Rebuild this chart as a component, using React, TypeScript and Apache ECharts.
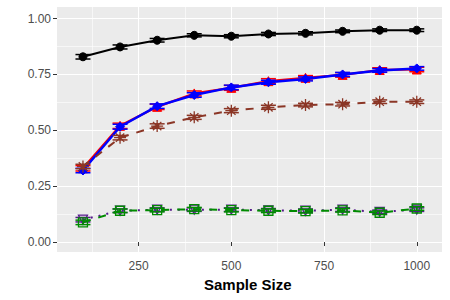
import React, { useEffect, useRef } from "react";
import * as echarts from "echarts";

const sampleSizes = [100, 200, 300, 400, 500, 600, 700, 800, 900, 1000];
const blackVals = [0.829, 0.873, 0.903, 0.925, 0.921, 0.931, 0.934, 0.943, 0.948, 0.948];
const blackErr = [0.01, 0.009, 0.008, 0.007, 0.007, 0.007, 0.007, 0.006, 0.006, 0.006];
const redVals = [0.33, 0.52, 0.605, 0.665, 0.69, 0.72, 0.735, 0.748, 0.77, 0.772];
const redErr = [0.012, 0.012, 0.012, 0.011, 0.011, 0.011, 0.01, 0.01, 0.01, 0.01];
const blueVals = [0.32, 0.516, 0.608, 0.658, 0.692, 0.715, 0.73, 0.75, 0.768, 0.777];
const blueErr = [0.01, 0.011, 0.01, 0.01, 0.01, 0.009, 0.009, 0.009, 0.008, 0.008];
const brownVals = [0.338, 0.467, 0.519, 0.558, 0.588, 0.603, 0.613, 0.617, 0.628, 0.628];
const brownErr = [0.01, 0.01, 0.01, 0.009, 0.009, 0.009, 0.008, 0.008, 0.008, 0.008];
const greenVals = [0.088, 0.14, 0.143, 0.147, 0.143, 0.14, 0.138, 0.142, 0.131, 0.15];
const greenErr = [0.01, 0.008, 0.008, 0.008, 0.008, 0.008, 0.008, 0.008, 0.008, 0.008];
const purpleVals = [0.1, 0.14, 0.145, 0.145, 0.145, 0.142, 0.14, 0.145, 0.135, 0.145];
const purpleErr = [0.01, 0.008, 0.008, 0.008, 0.008, 0.008, 0.008, 0.008, 0.008, 0.008];

const xTicks = [250, 500, 750, 1000];
const xMinor = [125, 375, 625, 875];
const yTicks = [0, 0.25, 0.5, 0.75, 1.0];
const yMinor = [0.125, 0.375, 0.625, 0.875];
const xTitle = "Sample Size";

const ASTERISK = "path://M0,-10L0,10M-10,0L10,0M-7,-7L7,7M-7,7L7,-7";

type Spec = {
  name: string;
  vals: number[];
  err: number[];
  color: string;
  dash: number[] | "solid";
  width: number;
  symbol: string;
  size: number;
  filled: boolean;
};

const specs: Spec[] = [
  { name: "black", vals: blackVals, err: blackErr, color: "#000000", dash: "solid", width: 2, symbol: "circle", size: 8, filled: true },
  { name: "red", vals: redVals, err: redErr, color: "#FF0000", dash: "solid", width: 2.2, symbol: "triangle", size: 9, filled: true },
  { name: "blue", vals: blueVals, err: blueErr, color: "#0000FF", dash: "solid", width: 2.5, symbol: "diamond", size: 9, filled: true },
  { name: "brown", vals: brownVals, err: brownErr, color: "#8B3626", dash: [8, 8], width: 2, symbol: ASTERISK, size: 12, filled: false },
  { name: "purple", vals: purpleVals, err: purpleErr, color: "#551A8B", dash: [2, 6], width: 2, symbol: "path://M-10,-8L10,-8L0,10Z", size: 9, filled: false },
  { name: "green", vals: greenVals, err: greenErr, color: "#008B00", dash: [8, 8], width: 2, symbol: "rect", size: 9, filled: false },
];

export default function App() {
  const ref = useRef<HTMLDivElement>(null);
  useEffect(() => {
    if (!ref.current) return;
    const chart = echarts.init(ref.current, undefined, { renderer: "svg" });
    const series: any[] = [];
    specs.forEach((s, i) => {
      series.push({
        type: "line",
        name: s.name,
        data: sampleSizes.map((x, k) => [x, s.vals[k]]),
        symbol: s.symbol,
        symbolSize: s.size,
        showSymbol: true,
        lineStyle: { color: s.color, width: s.width, type: s.dash },
        itemStyle: s.filled
          ? { color: s.color, borderColor: s.color, borderWidth: 1 }
          : { color: "none", borderColor: s.color, borderWidth: 1.3 },
        z: 2 + i,
        silent: true,
      });
      series.push({
        type: "custom",
        name: s.name + "-err",
        data: sampleSizes.map((x, k) => [x, s.vals[k] - s.err[k], s.vals[k] + s.err[k]]),
        z: 2 + i,
        silent: true,
        renderItem: (params: any, api: any) => {
          const x = api.value(0);
          const lo = api.coord([x, api.value(1)]);
          const hi = api.coord([x, api.value(2)]);
          const w = 7.5;
          const st = { stroke: s.color, lineWidth: 1.5 };
          return {
            type: "group",
            children: [
              { type: "line", shape: { x1: lo[0], y1: lo[1], x2: hi[0], y2: hi[1] }, style: st },
              { type: "line", shape: { x1: lo[0] - w, y1: lo[1], x2: lo[0] + w, y2: lo[1] }, style: st },
              { type: "line", shape: { x1: hi[0] - w, y1: hi[1], x2: hi[0] + w, y2: hi[1] }, style: st },
            ],
          };
        },
      });
    });

    const font = "'Liberation Sans', Arial, sans-serif";
    chart.setOption({
      animation: false,
      grid: {
        left: 57,
        top: 7,
        width: 385,
        height: 245,
        show: true,
        backgroundColor: "#EBEBEB",
        borderWidth: 0,
      },
      xAxis: [
        {
          type: "value",
          min: 30,
          max: 1068,
          axisLine: { show: false },
          axisTick: { show: true, length: 4, lineStyle: { color: "#333333", width: 1 }, customValues: xTicks },
          axisLabel: {
            customValues: xTicks,
            color: "#4D4D4D",
            fontSize: 12,
            fontFamily: font,
            margin: 8,
            formatter: (v: number) => String(v),
          },
          splitLine: { show: true, lineStyle: { color: "#FFFFFF", width: 1 } },
          z: 1,
        },
        {
          type: "value",
          min: 30,
          max: 1068,
          position: "bottom",
          axisLine: { show: false },
          axisTick: { show: false, customValues: xMinor },
          axisLabel: { show: false, customValues: xMinor },
          splitLine: { show: true, lineStyle: { color: "#FFFFFF", width: 0.6 } },
          z: 0,
        },
      ],
      yAxis: [
        {
          type: "value",
          min: -0.0446,
          max: 1.0518,
          axisLine: { show: false },
          axisTick: { show: true, length: 4, lineStyle: { color: "#333333", width: 1 }, customValues: yTicks },
          axisLabel: {
            customValues: yTicks,
            color: "#4D4D4D",
            fontSize: 12,
            fontFamily: font,
            margin: 6,
            formatter: (v: number) => v.toFixed(2),
          },
          splitLine: { show: true, lineStyle: { color: "#FFFFFF", width: 1 } },
          z: 1,
        },
        {
          type: "value",
          min: -0.0446,
          max: 1.0518,
          position: "left",
          axisLine: { show: false },
          axisTick: { show: false, customValues: yMinor },
          axisLabel: { show: false, customValues: yMinor },
          splitLine: { show: true, lineStyle: { color: "#FFFFFF", width: 0.6 } },
          z: 0,
        },
      ],
      graphic: [
        {
          type: "text",
          left: 249 - 45,
          top: 277,
          style: {
            text: xTitle,
            fontSize: 15,
            fontWeight: "bold",
            fontFamily: font,
            fill: "#000000",
          },
        },
      ],
      series,
    });
    return () => chart.dispose();
  }, []);
  return <div ref={ref} style={{ width: 450, height: 300, position: "absolute", left: 0, top: 0 }} />;
}
